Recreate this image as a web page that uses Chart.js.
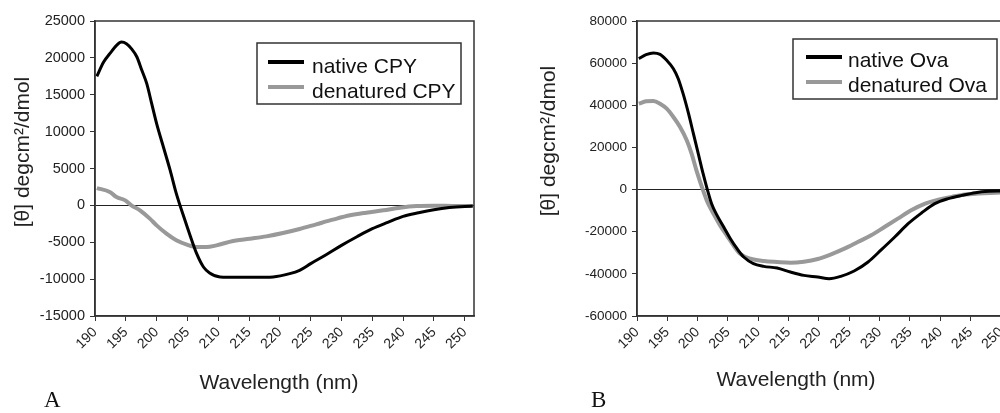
<!DOCTYPE html>
<html>
<head>
<meta charset="utf-8">
<script src="https://cdn.jsdelivr.net/npm/chart.js@4.4.1/dist/chart.umd.min.js"></script>
<style>
  html, body { margin: 0; padding: 0; background: #fff; }
  body { width: 1000px; height: 413px; overflow: hidden; position: relative; }
  #chartA { position: absolute; left: 0; top: 0; }
  #chartB { position: absolute; left: 500px; top: 0; }
  .panel { position: absolute; top: 387px; font: 23px "Liberation Serif", "Times New Roman", serif; color: #111; }
</style>
</head>
<body>
<canvas id="chartA" width="500" height="413"></canvas>
<canvas id="chartB" width="530" height="413"></canvas>
<div class="panel" style="left:44px">A</div>
<div class="panel" style="left:591px">B</div>
<script>
// CPY (panel A)
const cpyNativeNm = [190.3, 191.4, 192.4, 193.5, 194.3, 195.1, 195.9, 196.8, 197.6, 198.4, 199.2, 200, 201.1, 202.2, 203.2, 204.6, 205.7, 206.5, 207.6, 208.6, 210.3, 213, 216, 218.9, 221.6, 223.2, 225, 227.5, 230, 232.5, 235, 237.5, 240, 242.5, 245, 247.5, 250, 251.3];
const cpyNative = [17500, 19440, 20570, 21700, 22150, 21930, 21250, 20120, 18310, 16500, 13790, 11080, 7910, 4750, 1590, -2030, -4740, -6550, -8360, -9170, -9710, -9750, -9750, -9700, -9260, -8800, -7900, -6700, -5420, -4250, -3160, -2300, -1490, -1000, -590, -300, -140, -100];
const cpyDenatNm = [190.3, 192.4, 193.5, 194.9, 195.9, 197.3, 198.9, 200, 201.6, 203.2, 204.9, 206.5, 208.1, 209.7, 212.4, 215.1, 217.8, 220.5, 223.2, 225.9, 228.6, 231.4, 234, 236.8, 239.5, 242.2, 244.9, 248, 251.3];
const cpyDenat = [2350, 1810, 1130, 680, 0, -670, -1800, -2710, -3840, -4740, -5330, -5650, -5650, -5420, -4830, -4520, -4200, -3750, -3200, -2570, -1940, -1350, -990, -670, -310, -90, -50, -80, -100];

// Ova (panel B)
const ovaNativeNm = [190.3, 191.5, 192.7, 193.8, 194.9, 196, 196.8, 197.6, 198.5, 199.3, 200.1, 200.9, 201.6, 202.3, 203.2, 204.3, 205.4, 206.5, 207.6, 209.2, 210.9, 213.1, 215.3, 217.5, 219.8, 221.7, 223.6, 225.8, 228.1, 230.3, 232.5, 234.7, 236.9, 239.1, 241.3, 243.6, 245.8, 248, 250.1, 251.5];
const ovaNative = [62120, 64020, 64810, 64180, 61330, 57380, 52630, 45510, 36020, 26530, 17030, 7540, 0, -6700, -12240, -17770, -23300, -28050, -32010, -35170, -36440, -37230, -39130, -40710, -41500, -42290, -41180, -38650, -34380, -28530, -22520, -16190, -11130, -6700, -4320, -2740, -1470, -830, -670, -600];
const ovaDenatNm = [190.3, 191.5, 192.7, 193.8, 194.9, 196, 197.1, 198.2, 199, 199.8, 200.7, 201.5, 202.6, 203.7, 204.8, 205.9, 207, 208.7, 210.9, 213.1, 215.3, 217.5, 219.8, 222, 224.2, 226.4, 228.6, 230.8, 233, 235.2, 237.5, 239.7, 241.9, 244.1, 246.3, 250.1, 251.5];
const ovaDenat = [40770, 41870, 42030, 40770, 38390, 34440, 29690, 23360, 17030, 9130, 1210, -5120, -11440, -16980, -21730, -26470, -30430, -32800, -33910, -34380, -34700, -34230, -32960, -30740, -28050, -24890, -21730, -17770, -13810, -9860, -6700, -4750, -3480, -2370, -1900, -1420, -1350];

const xTitle = 'Wavelength (nm)';
const yTitle = '[θ] degcm²/dmol';

const FONT = '"Liberation Sans", Arial, sans-serif';

function toPoints(xs, ys) {
  return xs.map((x, i) => ({ x: x, y: ys[i] }));
}

// frame, legend box and axis titles drawn on top of the plot
const extrasPlugin = {
  id: 'extras',
  afterDraw: (chart, args, opts) => {
    const ctx = chart.ctx;
    const a = chart.chartArea;
    ctx.save();
    ctx.strokeStyle = '#333';
    ctx.lineWidth = 1.5;
    ctx.strokeRect(a.left, a.top, a.right - a.left, a.bottom - a.top);

    const lg = opts.legend;
    ctx.fillStyle = '#fff';
    ctx.fillRect(lg.x, lg.y, lg.w, lg.h);
    ctx.strokeRect(lg.x, lg.y, lg.w, lg.h);
    ctx.font = '21px ' + FONT;
    ctx.textAlign = 'left';
    ctx.textBaseline = 'alphabetic';
    chart.data.datasets.forEach((ds, i) => {
      ctx.strokeStyle = ds.borderColor;
      ctx.lineWidth = 4;
      ctx.beginPath();
      ctx.moveTo(lg.sx, lg.sy[i]);
      ctx.lineTo(lg.sx + 36, lg.sy[i]);
      ctx.stroke();
      ctx.fillStyle = '#111';
      ctx.fillText(ds.label, lg.tx, lg.ty[i]);
    });

    ctx.fillStyle = '#222';
    ctx.font = '21px ' + FONT;
    ctx.textAlign = 'center';
    ctx.textBaseline = 'middle';
    ctx.fillText(xTitle, opts.xTitle.x, opts.xTitle.y);
    ctx.translate(opts.yTitle.x, opts.yTitle.y);
    ctx.rotate(-Math.PI / 2);
    ctx.fillText(yTitle, 0, 0);
    ctx.restore();
  }
};

function makeConfig(datasets, yMin, yMax, yStep, yWidth, padRight, tickSize, extras) {
  return {
    type: 'line',
    data: { datasets: datasets },
    options: {
      responsive: false,
      animation: false,
      devicePixelRatio: 1,
      layout: { padding: { left: 0, top: 21, right: padRight, bottom: 0 } },
      elements: { point: { radius: 0 } },
      scales: {
        x: {
          type: 'linear',
          min: 190,
          max: 251.5,
          afterFit: (scale) => { scale.height = 97; },
          border: { color: '#333', width: 1.5 },
          grid: { drawOnChartArea: false, tickLength: 5, tickColor: '#333' },
          ticks: {
            stepSize: 5,
            includeBounds: false,
            minRotation: 45,
            maxRotation: 45,
            padding: 3,
            color: '#222',
            font: { family: FONT, size: 14 },
            callback: (v) => String(v)
          }
        },
        y: {
          min: yMin,
          max: yMax,
          afterFit: (scale) => { scale.width = yWidth; },
          border: { color: '#333', width: 1.5 },
          grid: {
            tickLength: 5,
            tickColor: '#333',
            color: (c) => (c.tick && c.tick.value === 0 ? '#222' : 'rgba(0,0,0,0)')
          },
          ticks: {
            stepSize: yStep,
            padding: 5,
            color: '#222',
            font: { family: FONT, size: tickSize },
            callback: (v) => String(v)
          }
        }
      },
      plugins: {
        legend: { display: false },
        tooltip: { enabled: false },
        extras: extras
      }
    },
    plugins: [extrasPlugin]
  };
}

const lineStyle = (label, color, width, pts) => ({
  label: label,
  data: pts,
  borderColor: color,
  borderWidth: width,
  fill: false,
  cubicInterpolationMode: 'monotone'
});

const chartA = new Chart(
  document.getElementById('chartA'),
  makeConfig([
    lineStyle('native CPY', '#000', 3, toPoints(cpyNativeNm, cpyNative)),
    lineStyle('denatured CPY', '#999', 4, toPoints(cpyDenatNm, cpyDenat))
  ], -15000, 25000, 5000, 95, 26, 14.5, {
    legend: { x: 257, y: 43, w: 204, h: 61, sx: 268, sy: [62, 87], tx: 312, ty: [73, 98] },
    xTitle: { x: 279, y: 383 },
    yTitle: { x: 23, y: 152 }
  })
);

const chartB = new Chart(
  document.getElementById('chartB'),
  makeConfig([
    lineStyle('native Ova', '#000', 3, toPoints(ovaNativeNm, ovaNative)),
    lineStyle('denatured Ova', '#999', 4, toPoints(ovaDenatNm, ovaDenat))
  ], -60000, 80000, 20000, 137, 20, 13.5, {
    legend: { x: 293, y: 39, w: 204, h: 60, sx: 306, sy: [57, 82], tx: 348, ty: [67, 92] },
    xTitle: { x: 296, y: 380 },
    yTitle: { x: 49, y: 141 }
  })
);
</script>
</body>
</html>
